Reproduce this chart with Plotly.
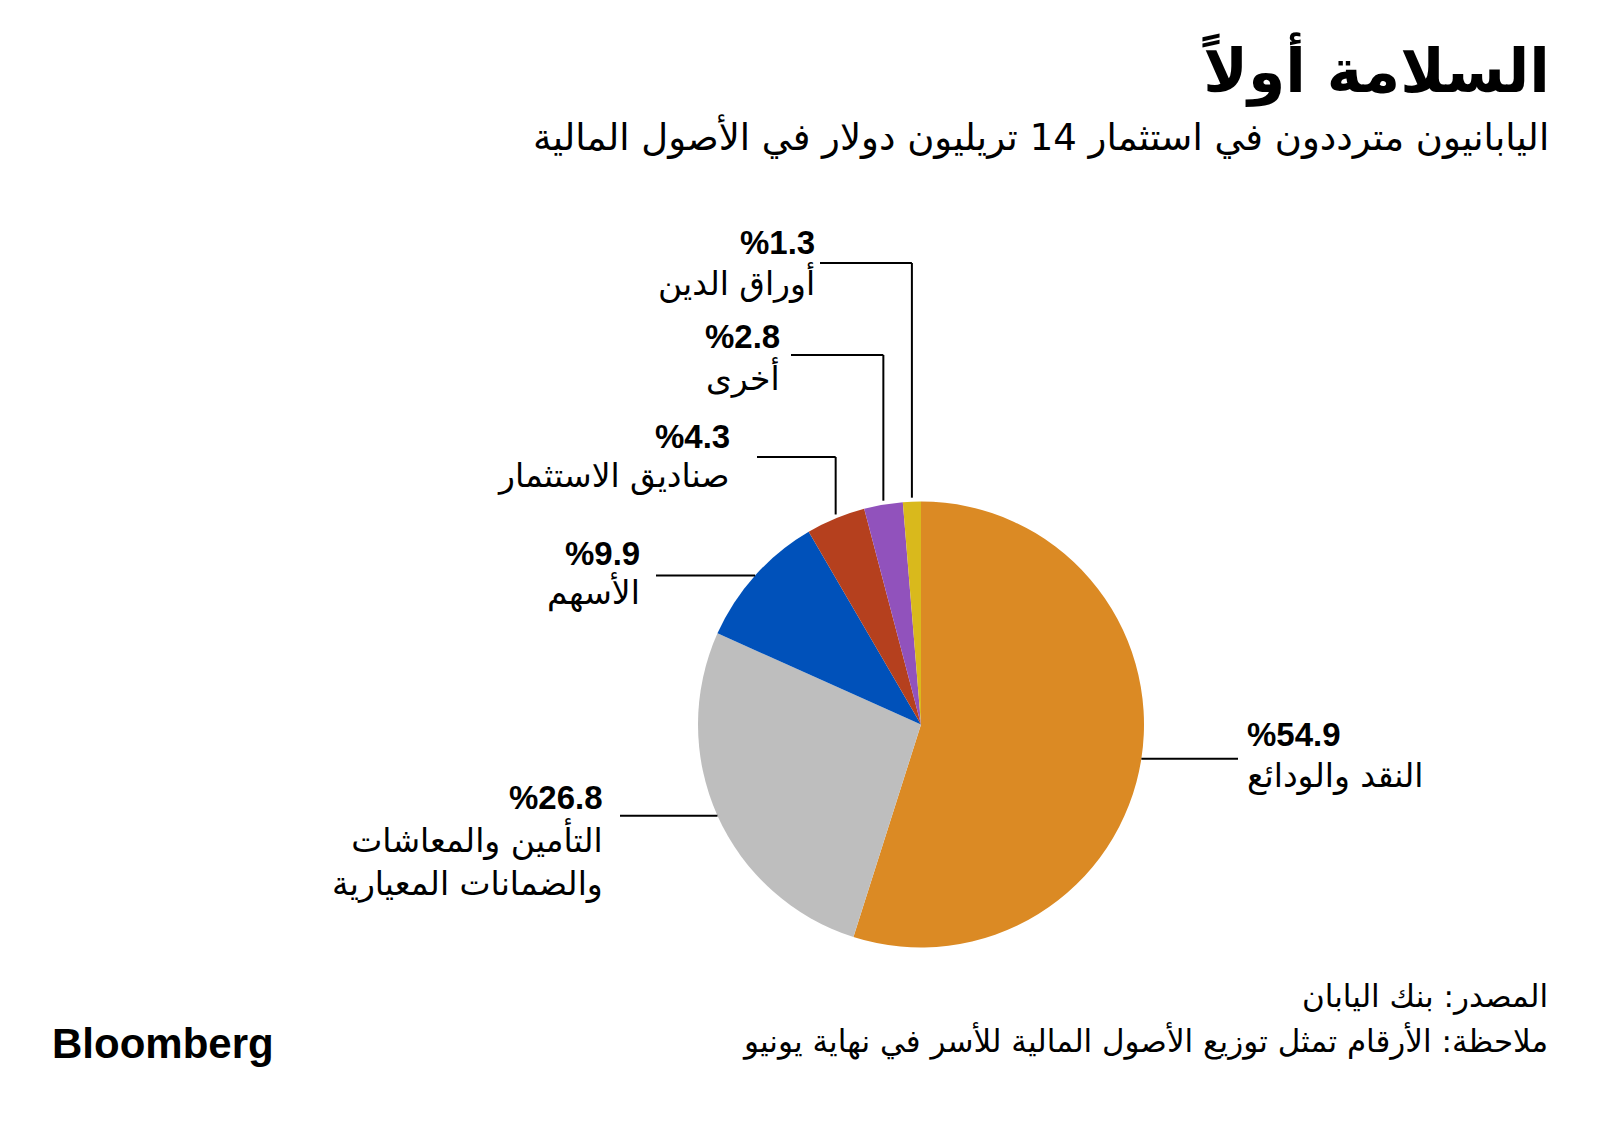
import math
import plotly.graph_objects as go

# data (share of Japanese household financial assets, %)
categories = ["النقد والودائع", "التأمين والمعاشات<br>والضمانات المعيارية", "الأسهم",
              "صناديق الاستثمار", "أخرى", "أوراق الدين"]
shares = [54.9, 26.8, 9.9, 4.3, 2.8, 1.3]
pct_labels = ["%54.9", "%26.8", "%9.9", "%4.3", "%2.8", "%1.3"]
colors = ["#DB8A24", "#BEBEBE", "#0051BA", "#B5401E", "#9152BC", "#D9B91C"]

title = "السلامة أولاً"
subtitle = "اليابانيون مترددون في استثمار 14 تريليون دولار في الأصول المالية"
source = "المصدر: بنك اليابان"
note = "ملاحظة: الأرقام تمثل توزيع الأصول المالية للأسر في نهاية يونيو"

W, H = 1600, 1121
OFF = 8  # page body margin
CX, CY, R = 921, 724.5, 223

AR = "DejaVu Sans"
NUM = "Liberation Sans"

# label placement per slice (pixels on the page)
label_pos = [
    dict(side="right", line_end=1238, text_x=1245, pct_y=734, name_y=776),
    dict(side="left", line_end=620, text_x=605, pct_y=797, name_y=860),
    dict(side="left", line_end=656, text_x=642, pct_y=554, name_y=592),
    dict(side="left", elbow_y=457, line_end=757, text_x=732, pct_y=436, name_y=476),
    dict(side="left", elbow_y=355, line_end=791, text_x=782, pct_y=336, name_y=377),
    dict(side="left", elbow_y=263, line_end=820, text_x=817, pct_y=242, name_y=282),
]


def px(x):
    return (x - OFF) / W


def py(y):
    return 1 - (y - OFF) / H


fig = go.Figure(go.Pie(
    values=shares, labels=categories, sort=False, direction="clockwise", rotation=0,
    marker=dict(colors=colors, line=dict(width=0)),
    textinfo="none", hoverinfo="skip", showlegend=False,
    domain=dict(x=[px(CX - R), px(CX + R)], y=[py(CY + R), py(CY - R)]),
))

shapes = []
annotations = []
total = sum(shares)
cum = 0
for i, v in enumerate(shares):
    mid = math.radians(360 * (cum + v / 2) / total)
    cum += v
    ex = CX + R * math.sin(mid)
    ey = CY - R * math.cos(mid)
    lp = label_pos[i]
    line = dict(color="black", width=2)
    if "elbow_y" in lp:
        shapes.append(dict(type="line", xref="paper", yref="paper", x0=px(ex), y0=py(ey - 4),
                           x1=px(ex), y1=py(lp["elbow_y"]), line=line))
        shapes.append(dict(type="line", xref="paper", yref="paper", x0=px(ex), y0=py(lp["elbow_y"]),
                           x1=px(lp["line_end"]), y1=py(lp["elbow_y"]), line=line))
    else:
        shapes.append(dict(type="line", xref="paper", yref="paper", x0=px(ex), y0=py(ey),
                           x1=px(lp["line_end"]), y1=py(ey), line=line))
    anchor = "right" if lp["side"] == "left" else "left"
    annotations.append(dict(text="<b>" + pct_labels[i] + "</b>", x=px(lp["text_x"]), y=py(lp["pct_y"]),
                            xanchor=anchor, yanchor="middle", showarrow=False, align=anchor,
                            font=dict(family=NUM, size=33, color="black")))
    annotations.append(dict(text=categories[i], x=px(lp["text_x"]), y=py(lp["name_y"]),
                            xanchor=anchor, yanchor="middle", showarrow=False, align=anchor,
                            font=dict(family=AR, size=33, color="black")))

annotations += [
    dict(text="<b>" + title + "</b>", x=px(1552), y=py(69), xanchor="right", yanchor="middle",
         showarrow=False, font=dict(family=AR, size=60, color="black")),
    dict(text=subtitle, x=px(1551), y=py(136), xanchor="right", yanchor="middle",
         showarrow=False, font=dict(family=AR, size=37, color="black")),
    dict(text=source, x=px(1550), y=py(996), xanchor="right", yanchor="middle",
         showarrow=False, font=dict(family=AR, size=31, color="black")),
    dict(text=note, x=px(1550), y=py(1041), xanchor="right", yanchor="middle",
         showarrow=False, font=dict(family=AR, size=31, color="black")),
    dict(text="<b>Bloomberg</b>", x=px(50), y=py(1043), xanchor="left", yanchor="middle",
         showarrow=False, font=dict(family=NUM, size=42, color="black")),
]

fig.update_layout(
    width=W, height=H, margin=dict(l=0, r=0, t=0, b=0),
    paper_bgcolor="white", plot_bgcolor="white",
    shapes=shapes, annotations=annotations,
)

fig.write_html("out.html")
